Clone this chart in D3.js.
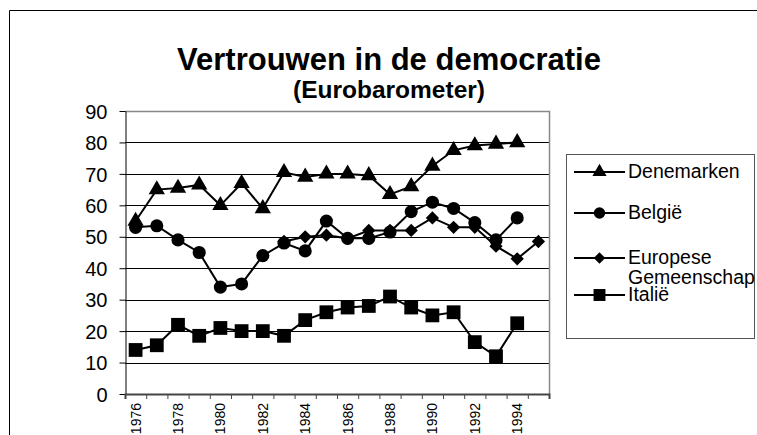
<!DOCTYPE html>
<html><head><meta charset="utf-8">
<script src="https://cdn.jsdelivr.net/npm/d3@7"></script>
<style>html,body{margin:0;background:#fff;overflow:hidden}svg{display:block}text{font-family:"Liberation Sans",Arial,sans-serif;fill:#000}</style>
</head><body>
<svg id="c" width="757" height="435"></svg>
<script>
const years = [1976,1977,1978,1979,1980,1981,1982,1983,1984,1985,1986,1987,1988,1989,1990,1991,1992,1993,1994,1995];
const denemarken = [55,65,65.5,66.5,60,67,59,70.5,69,70,70,69.5,63.5,66,72.5,77.5,79,79.5,80,null];
const belgie = [53,53.5,49,45,34,35,44,48,45.5,55,49.5,49.5,51.5,58,61,59,54.5,49,56,null];
const europa = [null,null,null,null,null,null,null,48.5,50,50.5,49.5,52,52,52,56,53,53,47,43,48.5];
const italie = [14,15.5,22,18.5,21,20,20,18.5,23.5,26,27.5,28,31,27.5,25,26,16.5,12,22.5,null];
const yTicks = [0,10,20,30,40,50,60,70,80,90];
const xLabels = [1976,1978,1980,1982,1984,1986,1988,1990,1992,1994];
const seriesNames = ["Denemarken","België","Europese\nGemeenschap","Italië"];

const svg = d3.select("#c");
const L=125,R=549,T=111,B=394;
const x = d3.scaleBand().domain(years).range([L,R]);
const xl = d3.scaleLinear().domain([0,years.length]).range([L,R]);
const y = d3.scaleLinear().domain([0,90]).range([B,T]);

// outer border (left and top visible)
svg.append("path").attr("d","M9.5,440V10.5H800").attr("fill","none").attr("stroke","#000");

// title
svg.append("text").attr("x",389).attr("y",70).attr("text-anchor","middle").style("font-weight","bold").style("font-size","31px").text("Vertrouwen in de democratie");
svg.append("text").attr("x",389).attr("y",98).attr("text-anchor","middle").style("font-weight","bold").style("font-size","24.5px").text("(Eurobarometer)");

// grid
svg.append("g").selectAll("line").data(yTicks.filter(v=>v>0&&v<90)).join("line")
  .attr("x1",L).attr("x2",R).attr("y1",d=>Math.round(y(d))+0.5).attr("y2",d=>Math.round(y(d))+0.5).attr("stroke","#000");
// plot border top/right
svg.append("path").attr("d",`M${L},${T+0.5}H${R+0.5}V${B}`).attr("fill","none").attr("stroke","#888").attr("stroke-width",1.5);

// y axis
const ya = svg.append("g").attr("transform",`translate(${L+0.5},0)`).call(d3.axisLeft(y).tickValues(yTicks).tickSize(6).tickPadding(12).tickSizeOuter(0));
ya.select(".domain").attr("stroke","#000");
ya.selectAll("line").attr("stroke","#000");
ya.selectAll("text").style("font-size","20px").attr("dy","0.36em");

// x axis tick marks
const xa = svg.append("g").attr("transform",`translate(0,${B})`).call(d3.axisBottom(xl).ticks(years.length).tickFormat("").tickSize(5).tickSizeOuter(5));
xa.select(".domain").attr("stroke","#444").attr("stroke-width",2);
xa.selectAll("line").attr("stroke","#444");
// x labels
const xt = svg.append("g").attr("transform",`translate(0,${B})`).call(d3.axisBottom(x).tickValues(xLabels).tickSize(0));
xt.select(".domain").remove();
xt.selectAll("text").style("font-size","14px").attr("transform","rotate(-90)").attr("text-anchor","end").attr("x",-9).attr("y",0).attr("dy","0.35em");

const cx = d => x(d)+x.bandwidth()/2;
const series = [
  {vals:denemarken, sym:d3.symbolTriangle, size:115, rot:0},
  {vals:belgie, sym:d3.symbolCircle, size:135, rot:0},
  {vals:europa, sym:d3.symbolSquare, size:88, rot:45},
  {vals:italie, sym:d3.symbolSquare, size:190, rot:0}
];
const line = d3.line().defined(d=>d.v!=null).x(d=>cx(d.yr)).y(d=>y(d.v));
series.forEach(s=>{
  const pts = years.map((yr,i)=>({yr, v:s.vals[i]}));
  svg.append("path").datum(pts).attr("d",line).attr("fill","none").attr("stroke","#000").attr("stroke-width",2);
  svg.append("g").selectAll("path").data(pts.filter(d=>d.v!=null)).join("path")
    .attr("d",d3.symbol(s.sym,s.size)).attr("fill","#000")
    .attr("transform",d=>`translate(${cx(d.yr)},${y(d.v)}) rotate(${s.rot})`);
});

// legend
svg.append("rect").attr("x",566.5).attr("y",154.5).attr("width",188).attr("height",184).attr("fill","#fff").attr("stroke","#555");
const legY = [172,213,258,295];
series.forEach((s,i)=>{
  const g = svg.append("g").attr("transform",`translate(0,${legY[i]})`);
  g.append("line").attr("x1",574).attr("x2",625).attr("y1",0).attr("y2",0).attr("stroke","#000").attr("stroke-width",2);
  g.append("path").attr("d",d3.symbol(s.sym,s.size*0.75)).attr("fill","#000").attr("transform",`translate(599.5,0) rotate(${s.rot})`);
  const lines = seriesNames[i].split("\n");
  lines.forEach((t,j)=>g.append("text").attr("x",628).attr("y",6+j*20).style("font-size","19.5px").text(t));
});
</script>
</body></html>
